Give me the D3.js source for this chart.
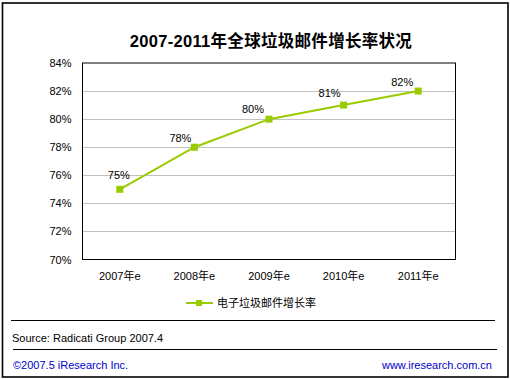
<!DOCTYPE html>
<html><head><meta charset="utf-8">
<script src="https://cdn.jsdelivr.net/npm/d3@7"></script>
<style>
body{margin:0;background:#fff;}
text{font-family:"Liberation Sans","DejaVu Sans",sans-serif;}
</style></head>
<body>
<svg id="c" width="510" height="379"></svg>
<script>
const title = "2007-2011年全球垃圾邮件增长率状况";
const categories = ["2007年e","2008年e","2009年e","2010年e","2011年e"];
const values = [75, 78, 80, 81, 82];
const yTicks = [70,72,74,76,78,80,82,84];
const seriesName = "电子垃圾邮件增长率";
const source = "Source: Radicati Group 2007.4";
const footLeft = "©2007.5 iResearch Inc.";
const footRight = "www.iresearch.com.cn";

const svg = d3.select("#c");
const green = "#99cc00";
const cjk = '"Liberation Sans","Noto Sans CJK SC",sans-serif';
const labelNudge = [[-1,-10],[-14,-5],[-16,-6],[-14,-8],[-16,-5]];

svg.append("rect").attr("x",2.5).attr("y",3).attr("width",505.5).attr("height",374)
  .attr("fill","#fff").attr("stroke","#000").attr("stroke-width",1.6);

svg.append("text").attr("x",271).attr("y",47).attr("text-anchor","middle")
  .style("font-family",cjk).style("font-weight","bold").style("font-size","16.5px")
  .style("letter-spacing","0.3px").text(title);

const L=82.5,R=455.5,T=63,B=259.5;
const x = d3.scaleBand().domain(categories).range([L,R]);
const y = d3.scaleLinear().domain([70,84]).range([B,T]);

svg.append("g").selectAll("line").data(yTicks.slice(1,-1)).join("line")
  .attr("x1",L).attr("x2",R).attr("y1",d=>Math.round(y(d))+0.5).attr("y2",d=>Math.round(y(d))+0.5)
  .attr("stroke","#c0c0c0").attr("stroke-width",1);

svg.append("rect").attr("x",L).attr("y",T).attr("width",R-L).attr("height",B-T)
  .attr("fill","none").attr("stroke","#000").attr("stroke-width",1);

const yAxis = d3.axisLeft(y).tickValues(yTicks).tickSize(0).tickPadding(0).tickFormat(d=>d+"%");
const ga = svg.append("g").attr("transform",`translate(${L-11},0)`).call(yAxis);
ga.select(".domain").remove();
ga.selectAll("text").style("font-family","Liberation Sans, sans-serif").style("font-size","11px").attr("fill","#000");

const xAxis = d3.axisBottom(x).tickSize(0).tickPadding(0);
const gx = svg.append("g").attr("transform",`translate(0,${B+13})`).call(xAxis);
gx.select(".domain").remove();
gx.selectAll("text").style("font-family",cjk).style("font-size","11px").attr("fill","#000");

const cx = d=>x(d)+x.bandwidth()/2;
const line = d3.line().x((d,i)=>cx(categories[i])).y(d=>y(d));
svg.append("path").datum(values).attr("d",line).attr("fill","none").attr("stroke",green).attr("stroke-width",2);
svg.append("g").selectAll("rect").data(values).join("rect")
  .attr("x",(d,i)=>cx(categories[i])-3.5).attr("y",d=>y(d)-3.5).attr("width",7).attr("height",7).attr("fill",green);
svg.append("g").selectAll("text").data(values).join("text")
  .attr("x",(d,i)=>cx(categories[i])+labelNudge[i][0]).attr("y",(d,i)=>y(d)+labelNudge[i][1]).attr("text-anchor","middle")
  .style("font-size","11px").text(d=>d+"%");

const lg = svg.append("g");
lg.append("line").attr("x1",186).attr("x2",213).attr("y1",303).attr("y2",303).attr("stroke",green).attr("stroke-width",2);
lg.append("rect").attr("x",196).attr("y",300).attr("width",6).attr("height",6).attr("fill",green);
lg.append("text").attr("x",217).attr("y",307).style("font-family",cjk).style("font-size","11px").text(seriesName);

svg.append("line").attr("x1",11).attr("x2",495).attr("y1",320.5).attr("y2",320.5).attr("stroke","#000");
svg.append("text").attr("x",12).attr("y",342).style("font-size","11px").text(source);
svg.append("line").attr("x1",13).attr("x2",497).attr("y1",349.5).attr("y2",349.5).attr("stroke","#000");
svg.append("text").attr("x",13).attr("y",369).style("font-size","11px").attr("fill","#0000cc").text(footLeft);
svg.append("text").attr("x",492).attr("y",369).attr("text-anchor","end").style("font-size","11px").attr("fill","#0000cc").text(footRight);
</script>
</body></html>
